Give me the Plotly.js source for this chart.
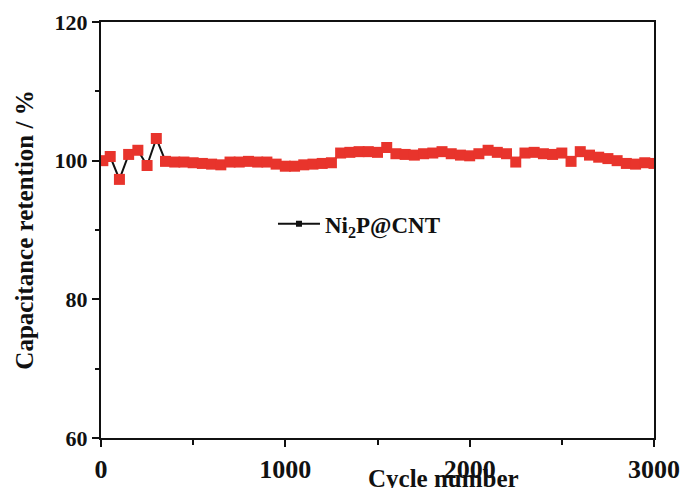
<!DOCTYPE html>
<html>
<head>
<meta charset="utf-8">
<script src="https://cdn.plot.ly/plotly-3.0.1.min.js"></script>
<style>html,body{margin:0;padding:0;background:#fff;}#chart{width:682px;height:488px;}</style>
</head>
<body>
<div id="chart"></div>
<script>
const cycles = [10,50,100,150,200,250,300,350,400,450,500,550,600,650,700,750,800,850,900,950,
  1000,1050,1100,1150,1200,1250,1300,1350,1400,1450,1500,1550,1600,1650,1700,1750,1800,1850,1900,1950,
  2000,2050,2100,2150,2200,2250,2300,2350,2400,2450,2500,2550,2600,2650,2700,2750,2800,2850,2900,2950,3000];
const retention = [100.0,100.6,97.3,100.9,101.5,99.3,103.2,99.9,99.8,99.8,99.7,99.6,99.5,99.4,99.8,99.8,99.9,99.8,99.8,99.5,
  99.2,99.2,99.4,99.5,99.6,99.7,101.1,101.2,101.3,101.3,101.2,101.9,101.0,100.9,100.8,101.0,101.1,101.3,101.0,100.8,
  100.7,101.0,101.5,101.2,101.0,99.8,101.1,101.2,101.0,100.9,101.1,99.9,101.3,100.8,100.5,100.3,100.0,99.6,99.5,99.7,99.6];
const seriesName = 'Ni<sub>2</sub>P@CNT';
const xTicks = [0,1000,2000,3000];
const yTicks = [60,80,100,120];

const serif = 'Liberation Serif, Times New Roman, serif';
const traces = [
  {x: cycles, y: retention, type: 'scatter', mode: 'lines+markers', showlegend: false,
   line: {color: '#111', width: 2},
   marker: {symbol: 'square', size: 11, color: '#e8342c', line: {width: 0}}},
  {x: [null], y: [null], type: 'scatter', mode: 'lines+markers', name: seriesName,
   line: {color: '#111', width: 2},
   marker: {symbol: 'square', size: 6, color: '#111'}}
];
const axisCommon = {
  showline: true, linecolor: '#111', linewidth: 2, mirror: true,
  showgrid: false, zeroline: false, ticks: 'outside', ticklen: 7, tickwidth: 2, tickcolor: '#111'
};
const layout = {
  width: 682, height: 488,
  margin: {l: 101, r: 28, t: 22, b: 50},
  paper_bgcolor: '#fff', plot_bgcolor: '#fff',
  xaxis: Object.assign({}, axisCommon, {range: [0, 3000], tickvals: xTicks, ticktext: xTicks.map(String),
    ticklabelstandoff: 0,
    tickfont: {family: serif, size: 26, color: '#111', weight: 'bold'},
    minor: {ticks: 'outside', ticklen: 5, tickwidth: 2, tickcolor: '#111', tickvals: [500,1500,2500]}}),
  yaxis: Object.assign({}, axisCommon, {range: [60, 120], tickvals: yTicks, ticktext: yTicks.map(String),
    tickfont: {family: serif, size: 22, color: '#111', weight: 'bold'},
    minor: {ticks: 'outside', ticklen: 4, tickwidth: 2, tickcolor: '#111', tickvals: [70,90,110]},
    title: {text: 'Capacitance retention / %', standoff: 14, font: {family: serif, size: 25, color: '#111', weight: 'bold'}}}),
  legend: {x: 0.311, y: 0.515, xanchor: 'left', yanchor: 'middle', bgcolor: 'rgba(0,0,0,0)', itemwidth: 42,
    font: {family: serif, size: 23, color: '#111', weight: 'bold'}},
  annotations: [{text: 'Cycle number', xref: 'paper', yref: 'paper', x: 0.62, y: -0.098,
    xanchor: 'center', yanchor: 'middle', showarrow: false,
    font: {family: serif, size: 25, color: '#111', weight: 'bold'}}]
};
Plotly.newPlot('chart', traces, layout, {displayModeBar: false, staticPlot: true});
</script>
</body>
</html>
